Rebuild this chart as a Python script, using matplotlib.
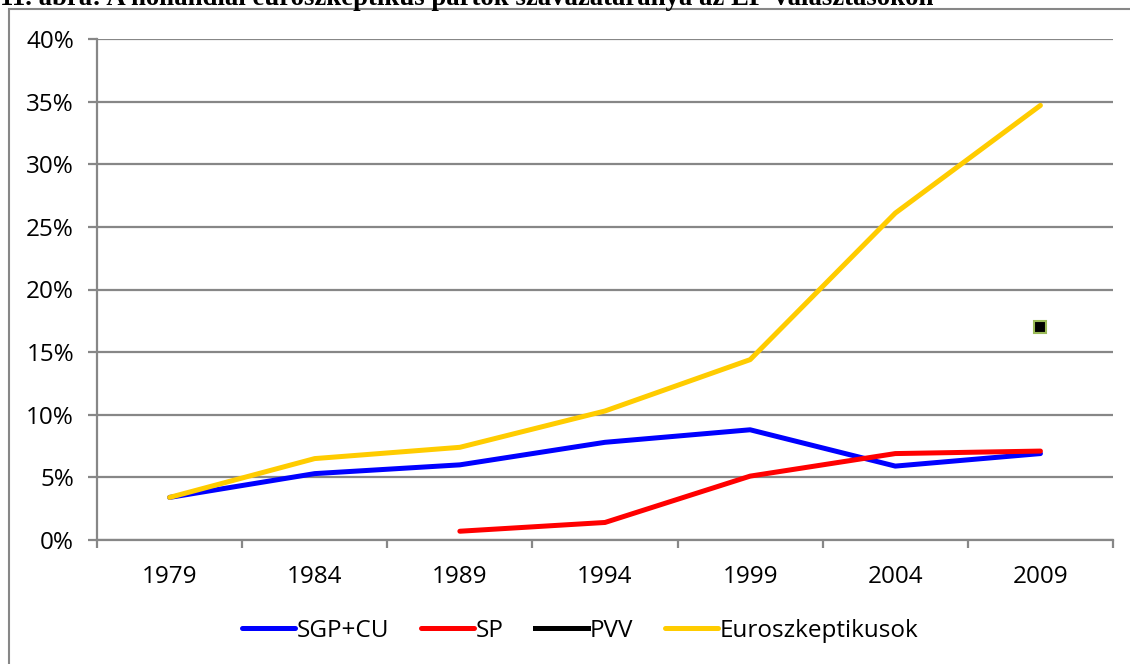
import numpy as np
import matplotlib
matplotlib.use("Agg")
import matplotlib.pyplot as plt
from matplotlib.patches import Rectangle

years = ["1979", "1984", "1989", "1994", "1999", "2004", "2009"]
sgp_cu = [3.4, 5.3, 6.0, 7.8, 8.8, 5.9, 6.9]
sp = [np.nan, np.nan, 0.7, 1.4, 5.1, 6.9, 7.1]
pvv = [np.nan, np.nan, np.nan, np.nan, np.nan, np.nan, 17.0]
euroszk = [3.4, 6.5, 7.4, 10.3, 14.4, 26.1, 34.7]
y_ticks = [0, 5, 10, 15, 20, 25, 30, 35, 40]

title = "11. ábra: A hollandiai euroszkeptikus pártok szavazataránya az EP-választásokon"

plt.rcParams['font.family'] = ['Open Sans', 'DejaVu Sans']
grey = "#878787"

fig = plt.figure(figsize=(11.3, 6.64), dpi=100)
W, H = 1130, 664
ax = fig.add_axes([97 / W, (H - 540) / H, (1113 - 97) / W, (540 - 39) / H])

# chart frame (right and bottom run off the picture)
fig.patches.append(Rectangle((9 / W, -0.1), 1.2, 1.1 - 9 / H, transform=fig.transFigure,
                             fill=False, edgecolor=grey, lw=1.5, clip_on=False))
# title of the figure, cut by the top edge as in the source
fig.text(0 / W, 1 - 5 / H, title, family="Liberation Serif", weight="bold",
         fontsize=19.3, ha="left", va="baseline")

x = np.arange(len(years))
ax.plot(x, sgp_cu, color="#0000FF", lw=3.6, label="SGP+CU", solid_capstyle="round")
ax.plot(x, sp, color="#FF0000", lw=3.6, label="SP", solid_capstyle="round")
ax.plot(x, pvv, color="black", lw=3.6, label="PVV", marker="s", markersize=9,
        markerfacecolor="black", markeredgecolor="#9BBB59", markeredgewidth=1.5)
ax.plot(x, euroszk, color="#FFCC00", lw=3.6, label="Euroszkeptikusok", solid_capstyle="round")

ax.set_xlim(-0.5, len(years) - 0.5)
ax.set_ylim(0, 40)
ax.set_yticks(y_ticks)
ax.set_yticklabels([f"{v}%" for v in y_ticks])
ax.set_xticks(x)
ax.set_xticklabels(years)
ax.set_xticks(np.arange(len(years) + 1) - 0.5, minor=True)
ax.grid(axis="y", color=grey, lw=1.6)
ax.set_axisbelow(True)
for s in ["top", "right"]:
    ax.spines[s].set_visible(False)
for s in ["left", "bottom"]:
    ax.spines[s].set_color(grey)
    ax.spines[s].set_linewidth(1.6)
ax.tick_params(axis="y", length=6.5, width=1.6, color=grey, pad=10, labelsize=17.5)
ax.tick_params(axis="x", which="major", length=0, pad=18, labelsize=17.5)
ax.tick_params(axis="x", which="minor", length=6, width=1.6, color=grey)

handles, labels = ax.get_legend_handles_labels()
handles[2] = plt.Line2D([], [], color="black", lw=3.6)
fig.legend(handles, labels, loc="center", bbox_to_anchor=(580 / W, (H - 631) / H), ncol=4,
           frameon=False, fontsize=17.5, handlelength=2.2, handletextpad=0.05, columnspacing=1.3)

fig.savefig("out.png", dpi=100)
